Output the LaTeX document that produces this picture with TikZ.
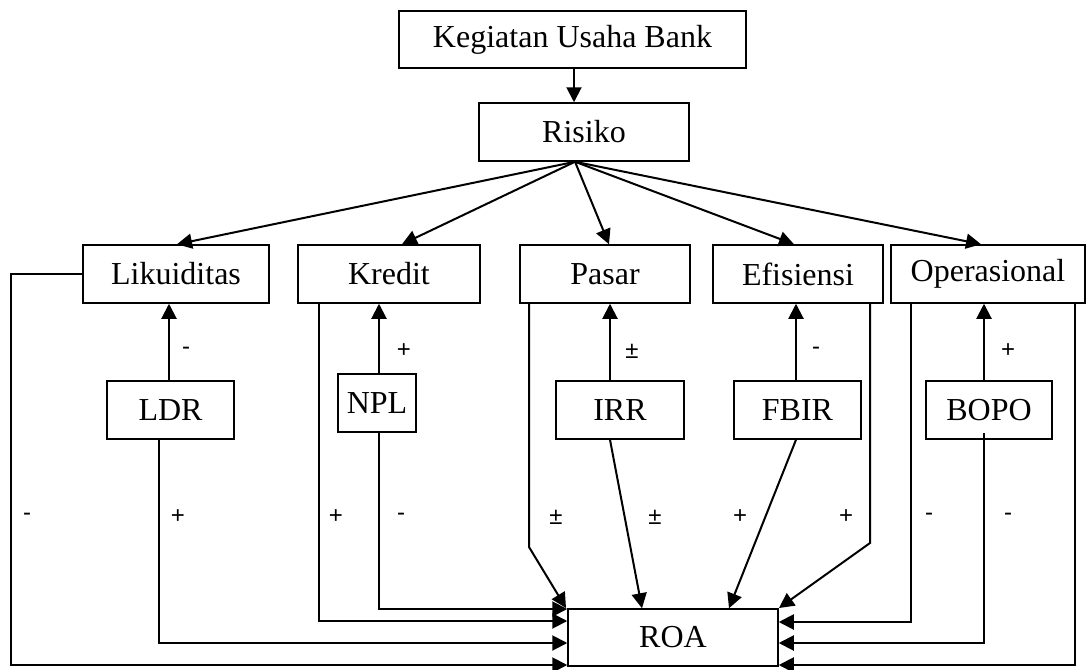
\documentclass[tikz,border=0pt]{standalone}
\usepackage{fontspec}
\setmainfont{Liberation Serif}
\newfontfamily\labfont{Liberation Sans}
\usetikzlibrary{arrows.meta}
\tikzset{
  box/.style={draw, line width=1.5pt, inner sep=0pt, font=\fontsize{32}{38}\selectfont},
  arr/.style={line width=2pt, -{Triangle[length=15pt,width=15pt]}},
  lab/.style={font=\labfont\fontsize{24}{28}\selectfont, inner sep=0pt}
}
\begin{document}
\begin{tikzpicture}[x=1pt,y=-1pt]
\useasboundingbox (0,0) rectangle (1086,669);
% boxes
\node[box, minimum width=347pt, minimum height=57pt] (keg) at (572.5,39.5) {Kegiatan Usaha Bank};
\node[box, minimum width=210pt, minimum height=58pt] (ris) at (584,132) {Risiko};
\node[box, minimum width=186pt, minimum height=58pt] (lik) at (176,274) {Likuiditas};
\node[box, minimum width=182pt, minimum height=58pt] (kre) at (389,274) {Kredit};
\node[box, minimum width=170pt, minimum height=58pt] (pas) at (605,274) {Pasar};
\node[box, minimum width=170pt, minimum height=58pt] (efi) at (798,274) {Efisiensi};
\node[box, minimum width=194pt, minimum height=58pt] (ope) at (988,274) {Operasional};
\node[box, minimum width=127pt, minimum height=58pt] (ldr) at (170.5,410) {LDR};
\node[box, minimum width=78pt, minimum height=58pt] (npl) at (377,403) {NPL};
\node[box, minimum width=128pt, minimum height=58pt] (irr) at (620,410) {IRR};
\node[box, minimum width=127pt, minimum height=58pt] (fbir) at (797.5,410) {FBIR};
\node[box, minimum width=126pt, minimum height=58pt] (bopo) at (989,410) {BOPO};
\node[box, minimum width=210pt, minimum height=57pt] (roa) at (673,637.5) {ROA};
% top
\draw[arr] ([xshift=1.5pt]keg.south) -- ([xshift=-10pt]ris.north);
\coordinate (rs) at ([xshift=-9pt]ris.south);
\draw[arr] (rs) -- ([xshift=1pt]lik.north);
\draw[arr] (rs) -- ([xshift=13pt]kre.north);
\draw[arr] (rs) -- ([xshift=4pt]pas.north);
\draw[arr] (rs) -- ([xshift=-4pt]efi.north);
\draw[arr] (rs) -- ([xshift=-7pt]ope.north);
% up arrows
\draw[arr] ([xshift=-1.5pt]ldr.north) -- ([xshift=-1.5pt]ldr.north |- lik.south);
\draw[arr] ([xshift=2pt]npl.north) -- ([xshift=2pt]npl.north |- kre.south);
\draw[arr] ([xshift=-10pt]irr.north) -- ([xshift=-10pt]irr.north |- pas.south);
\draw[arr] ([xshift=-1.5pt]fbir.north) -- ([xshift=-1.5pt]fbir.north |- efi.south);
\draw[arr] ([xshift=-5pt]bopo.north) -- ([xshift=-5pt]bopo.north |- ope.south);
\node[lab] (l1) at (186,351) {-};
\node[lab] (l2) at (404,351) {+};
\node[lab] (l3) at (632,351) {±};
\node[lab] (l4) at (816,351) {-};
\node[lab] (l5) at (1008,351) {+};
% corner coordinates
\coordinate (c1) at (11,665);
\coordinate (c2) at (159,643);
\coordinate (c3) at (319,621);
\coordinate (c4) at (379,609);
\coordinate (c5) at (529,547);
\coordinate (c6) at (870,543);
\coordinate (c7) at (911,622);
\coordinate (c8) at (984,643);
\coordinate (c9) at (1075,665);
\coordinate (t5) at (566,608);
\coordinate (t6) at (779,608);
% down connections
\draw[arr] (lik.west) -| (c1) -- (c1 -| roa.west);
\draw[arr] (ldr.south -| c2) -- (c2) -- (c2 -| roa.west);
\draw[arr] (kre.south -| c3) -- (c3) -- (c3 -| roa.west);
\draw[arr] (npl.south -| c4) -- (c4) -- (c4 -| roa.west);
\draw[arr] (pas.south -| c5) -- (c5) -- (t5);
\draw[arr] ([xshift=-10pt]irr.south) -- ([xshift=-31pt]roa.north);
\draw[arr] ([xshift=-1.5pt]fbir.south) -- ([xshift=56pt]roa.north);
\draw[arr] (efi.south -| c6) -- (c6) -- (t6);
\draw[arr] (ope.south -| c7) -- (c7) -- (c7 -| roa.east);
\draw[arr] ([yshift=7pt]bopo.south -| c8) -- (c8) -- (c8 -| roa.east);
\draw[arr] (ope.south -| c9) -- (c9) -- (c9 -| roa.east);
% bottom labels
\node[lab] (b1) at (27,517) {-};
\node[lab] (b2) at (178,517) {+};
\node[lab] (b3) at (336,517) {+};
\node[lab] (b4) at (401,517) {-};
\node[lab] (b5) at (556,517) {±};
\node[lab] (b6) at (655,517) {±};
\node[lab] (b7) at (740,517) {+};
\node[lab] (b8) at (846,517) {+};
\node[lab] (b9) at (929,517) {-};
\node[lab] (b10) at (1008,517) {-};
\end{tikzpicture}
\end{document}
